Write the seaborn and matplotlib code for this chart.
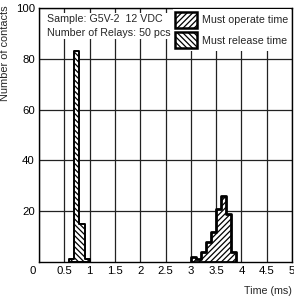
import matplotlib
matplotlib.use('Agg')
import matplotlib.pyplot as plt
from matplotlib.patches import Patch
from matplotlib.transforms import ScaledTranslation
import seaborn as sns
import numpy as np

# ── DATA ──────────────────────────────────────────────
release_edges  = [0.6, 0.7, 0.8, 0.9, 1.0]
release_counts = [1, 83, 15, 1]
operate_edges  = [3.0, 3.1, 3.2, 3.3, 3.4, 3.5, 3.6, 3.7, 3.8, 3.9]
operate_counts = [2, 1, 4, 8, 12, 21, 26, 19, 4]
x_ticks  = [0, 0.5, 1, 1.5, 2, 2.5, 3, 3.5, 4, 4.5, 5]
x_labels = ['0', '0.5', '1', '1.5', '2', '2.5', '3', '3.5', '4', '4.5', '5']
y_ticks  = [20, 40, 60, 80, 100]
info_text = 'Sample: G5V-2  12 VDC\nNumber of Relays: 50 pcs'

sns.set_style('white')
plt.rcParams['font.family'] = ['Liberation Sans', 'DejaVu Sans']
plt.rcParams['hatch.color'] = 'black'
plt.rcParams['hatch.linewidth'] = 0.9

OP_HATCH  = '//////'
REL_HATCH = '\\' * 6
FS = 7.7

fig = plt.figure(figsize=(2.94, 2.96), dpi=100)
ax = fig.add_axes([39/294, 1 - 262/296, 253/294, 254/296])

def centers(edges):
    e = np.array(edges)
    return (e[:-1] + e[1:]) / 2

sns.histplot(x=centers(release_edges), weights=release_counts, bins=release_edges,
             element='step', fill=True, facecolor='white', edgecolor='black',
             hatch=REL_HATCH, linewidth=1.4, ax=ax, zorder=3)
sns.histplot(x=centers(operate_edges), weights=operate_counts, bins=operate_edges,
             element='step', fill=True, facecolor='white', edgecolor='black',
             hatch=OP_HATCH, linewidth=2, ax=ax, zorder=3)

ax.set_xlim(0, 5)
ax.set_ylim(0, 100)
ax.set_xticks(x_ticks)
ax.set_xticklabels(x_labels)
ax.set_yticks(y_ticks)
ax.tick_params(length=0, labelsize=8.2, colors='black', pad=3)
ax.grid(True, color='#222222', linewidth=0.9)
ax.set_axisbelow(True)
for s in ax.spines.values():
    s.set_color('black')
    s.set_linewidth(1)

# the "0" sits a bit left of the corner
zero = ax.get_xticklabels()[0]
zero.set_transform(zero.get_transform() + ScaledTranslation(-6/100, 0, fig.dpi_scale_trans))

ax.set_ylabel('Number of contacts', fontsize=7.9, labelpad=5)
ax.yaxis.set_label_coords(-0.115, 1.01)
ax.yaxis.label.set_horizontalalignment('right')
ax.set_xlabel('Time (ms)', fontsize=FS, loc='right', labelpad=7)

ax.text(0.03, 0.975, info_text, transform=ax.transAxes, va='top', ha='left',
        fontsize=FS, linespacing=1.4, zorder=5,
        bbox=dict(facecolor='white', edgecolor='none', pad=1))

handles = [
    Patch(facecolor='white', edgecolor='black', hatch=OP_HATCH, linewidth=1.8, label='Must operate time'),
    Patch(facecolor='white', edgecolor='black', hatch=REL_HATCH, linewidth=1.8, label='Must release time'),
]
leg = ax.legend(handles=handles, loc='upper right', fontsize=FS, frameon=True,
                handlelength=2.0, handleheight=1.9, handletextpad=0.5,
                labelspacing=0.45, borderpad=0.25, borderaxespad=0.1, fancybox=False)
leg.get_frame().set_facecolor('white')
leg.get_frame().set_edgecolor('none')
leg.get_frame().set_alpha(1)
leg.set_zorder(5)

plt.savefig('out.png', dpi=100)
